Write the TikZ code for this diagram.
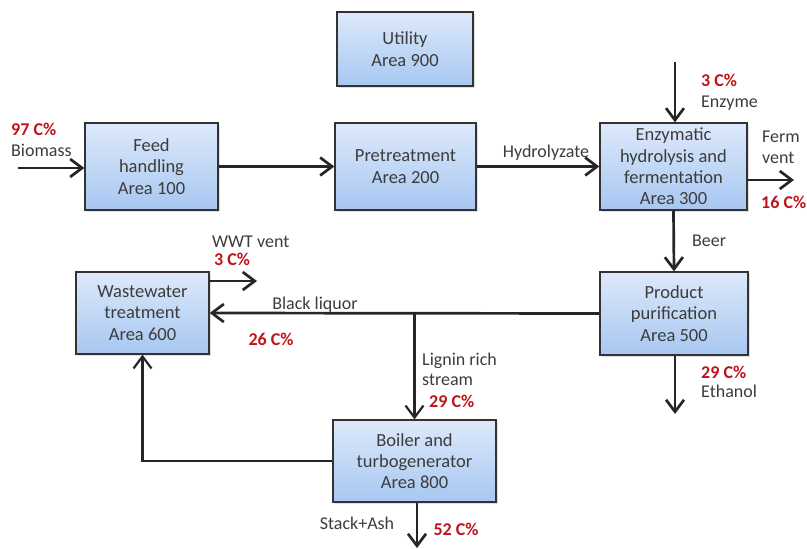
\documentclass[tikz,border=0pt]{standalone}
\usepackage{fontspec}
\setmainfont{Carlito}
\usetikzlibrary{arrows.meta,shadows}

\definecolor{boxtop}{HTML}{DDE9FA}
\definecolor{boxbot}{HTML}{A7C7F1}
\definecolor{txtgray}{HTML}{3C3C3C}
\definecolor{pctred}{HTML}{C0141B}

\begin{document}
\begin{tikzpicture}[x=1pt, y=-1pt,
    >={Straight Barb[length=12pt,width=18pt]},
    area/.style={draw=black!80, line width=1.2pt, top color=boxtop, bottom color=boxbot,
      drop shadow={shadow xshift=1.5pt, shadow yshift=-2pt, opacity=.25},
      align=center, text=txtgray, font=\fontsize{18.5}{21.3}\selectfont, inner sep=0pt},
    flow/.style={->, line width=2.7pt, draw=black!85},
    lbl/.style={text=txtgray, font=\fontsize{18}{21}\selectfont, inner sep=0pt,
      text height=12pt, text depth=3pt},
    pct/.style={text=pctred, font=\bfseries\fontsize{18}{21}\selectfont, inner sep=0pt,
      text height=12pt, text depth=3pt}]

  \useasboundingbox (0,0) rectangle (807,549);

  % Process areas
  \node[area, minimum width=136pt, minimum height=74pt] (util) at (405,49) {Utility\\Area 900};
  \node[area, minimum width=133pt, minimum height=87pt] (feed) at (151.5,166.5) {Feed\\handling\\Area 100};
  \node[area, minimum width=141pt, minimum height=87pt] (pre) at (405.5,166.5) {Pretreatment\\Area 200};
  \node[area, minimum width=147pt, minimum height=87pt] (enz) at (673.5,166.5)
       {Enzymatic\\hydrolysis and\\fermentation\\Area 300};
  \node[area, minimum width=148pt, minimum height=83pt] (prod) at (674,313.5) {Product\\purification\\Area 500};
  \node[area, minimum width=133pt, minimum height=82pt] (wwt) at (142.5,313) {Wastewater\\treatment\\Area 600};
  \node[area, minimum width=163pt, minimum height=82pt] (boil) at (414.5,461) {Boiler and\\turbogenerator\\Area 800};

  % Free ends of the streams
  \coordinate (bio) at (18,168);
  \coordinate (enzin) at (675,62);
  \coordinate (fvent) at (794,180);
  \coordinate (wvent) at (257,281);
  \coordinate (ethout) at (675,414);
  \coordinate (stack) at (417,548);

  % Main streams
  \draw[flow] (bio) -- (bio -| feed.west);
  \draw[flow] (feed.east) -- (pre.west);
  \draw[flow] (pre.east) -- (enz.west);
  \draw[flow] (enzin) -- (enzin |- enz.north);
  \draw[flow] (enz.east |- fvent) -- (fvent);
  \draw[flow] (enz.south) -- (prod.north);
  \draw[flow] (prod.south -| ethout) -- (ethout);
  \draw[flow] (prod.west) -- (wwt.east);
  \draw[flow] (wwt.east |- wvent) -- (wvent);
  \draw[flow, line width=2.2pt] (boil.north |- prod.west) -- (boil.north);
  \draw[flow, line width=2.2pt] (boil.west) -| (wwt.south);
  \draw[flow] (boil.south -| stack) -- (stack);

  % Stream labels and carbon shares
  \node[pct, anchor=west] (pbio) at (11,131) {97 C\%};
  \node[lbl, anchor=west] (lbio) at (11,152) {Biomass};
  \node[lbl] (lhyd) at (546,153) {Hydrolyzate};
  \node[pct, anchor=west] (penz) at (701,82) {3 C\%};
  \node[lbl, anchor=west] (lenz) at (701,103) {Enzyme};
  \node[lbl, anchor=west] (lferm) at (762,138) {Ferm};
  \node[lbl, anchor=west] (lvent) at (762,159) {vent};
  \node[pct, anchor=west] (pferm) at (761,204) {16 C\%};
  \node[lbl, anchor=west] (lbeer) at (692,242) {Beer};
  \node[lbl, anchor=west] (lwwt) at (212,243) {WWT vent};
  \node[pct, anchor=west] (pwwt) at (214,261) {3 C\%};
  \node[lbl] (lblack) at (315,305) {Black liquor};
  \node[pct] (pblack) at (271,341) {26 C\%};
  \node[lbl, anchor=west] (llig) at (422,361) {Lignin rich};
  \node[lbl, anchor=west] (lstream) at (422,381) {stream};
  \node[pct, anchor=west] (plig) at (429,403) {29 C\%};
  \node[pct, anchor=west] (peth) at (701,374) {29 C\%};
  \node[lbl, anchor=west] (leth) at (701,393) {Ethanol};
  \node[lbl] (lstack) at (357,525) {Stack+Ash};
  \node[pct] (pstack) at (456,531) {52 C\%};

\end{tikzpicture}
\end{document}
